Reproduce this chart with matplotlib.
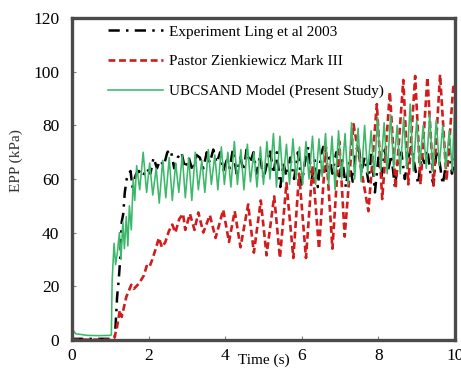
import matplotlib
matplotlib.use("Agg")
import matplotlib.pyplot as plt
from matplotlib.transforms import blended_transform_factory

plt.rcParams['font.family'] = ['Liberation Serif', 'DejaVu Serif']

# Experiment (Ling et al 2003)
exp_t = [0.0, 0.5, 1.0, 1.12, 1.15, 1.18, 1.22, 1.26, 1.30, 1.34, 1.38, 1.43, 1.48, 1.53,
         1.58, 1.63, 1.68, 1.75, 1.85, 1.95, 2.05, 2.13, 2.22, 2.30, 2.40, 2.49, 2.58,
         2.67, 2.76, 2.86, 2.95, 3.05, 3.15, 3.25, 3.34, 3.43, 3.52, 3.60, 3.69, 3.78,
         3.87, 3.95, 4.04, 4.12, 4.20, 4.30, 4.40, 4.48, 4.56, 4.65, 4.74, 4.82, 4.91,
         5.00, 5.08, 5.17, 5.26, 5.35, 5.44, 5.52, 5.60, 5.70, 5.80, 5.90, 6.00, 6.08,
         6.17, 6.26, 6.34, 6.42, 6.50, 6.56, 6.64, 6.72, 6.80, 6.90, 6.98, 7.06, 7.15,
         7.24, 7.33, 7.40, 7.48, 7.56, 7.64, 7.74, 7.82, 7.91, 8.00, 8.08, 8.17, 8.25,
         8.34, 8.43, 8.52, 8.60, 8.69, 8.78, 8.86, 8.96, 9.04, 9.12, 9.20, 9.28, 9.36,
         9.44, 9.52, 9.60, 9.68, 9.76, 9.84, 9.92, 10.0]
exp_p = [0.3, 0.3, 0.3, 0.5, 8, 16, 22, 30, 44, 47, 55, 60, 62, 63,
         57, 60, 62, 63, 61, 64, 62, 68, 64, 67, 65, 70, 71,
         64, 68, 70, 64, 68, 63, 69, 68, 64, 70, 66, 71, 66,
         70, 63, 67, 64, 71, 62, 68, 63, 71, 66, 70, 62, 69,
         60, 65, 71, 62, 70, 57, 66, 61, 68, 60, 70, 58, 66,
         72, 60, 67, 57, 69, 72, 63, 68, 62, 70, 61, 67, 57,
         66, 59, 70, 73, 63, 68, 59, 70, 55, 68, 61, 71, 63,
         69, 57, 67, 70, 60, 68, 72, 64, 58, 69, 66, 71, 62,
         58, 71, 66, 58, 65, 71, 62, 68]

# Pastor Zienkiewicz Mark III
pz_t = [0.0, 0.5, 1.0, 1.10, 1.17, 1.25, 1.30, 1.42, 1.55, 1.62, 1.75, 1.88, 1.95, 2.02,
        2.10, 2.20, 2.27, 2.35, 2.44, 2.53, 2.62, 2.70, 2.80, 2.90, 2.96, 3.08, 3.20,
        3.30, 3.43, 3.60, 3.75, 3.95, 4.10, 4.25, 4.40, 4.60, 4.75, 4.93, 5.08, 5.28,
        5.43, 5.60, 5.78, 5.93, 6.11, 6.28, 6.45, 6.63, 6.80, 6.98, 7.12, 7.35, 7.74,
        7.96, 8.10, 8.30, 8.45, 8.65, 8.78, 8.96, 9.10, 9.28, 9.44, 9.61, 9.78, 9.96, 10.0]
pz_p = [0.0, 0.0, 0.0, 0.5, 4, 11, 8.5, 16, 20.5, 19, 21, 24, 27.5, 27,
        30, 34.5, 38, 34.5, 36.5, 40.5, 43, 40, 45, 47, 41, 47, 41,
        47.5, 40, 46.5, 38, 48.5, 36.5, 48, 34.5, 50.5, 32.5, 52, 31.5, 53.5,
        30.5, 58.5, 30.5, 62, 30.5, 65, 34, 72, 34, 74, 38.5, 80.5, 48,
        88, 52.5, 92.5, 56.5, 97, 58, 98.5, 58, 98, 57.5, 99, 59.5, 95.5, 94]

# UBCSAND model (present study)
ubc_t = [0.0, 0.05, 0.10, 0.20, 0.40, 0.70, 1.00, 1.03, 1.05, 1.10, 1.14, 1.19, 1.24,
         1.28, 1.33, 1.37, 1.42, 1.46, 1.50, 1.55, 1.60, 1.64,
         1.69, 1.77, 1.86, 1.95, 2.03, 2.11, 2.20, 2.28, 2.37, 2.45, 2.54, 2.62, 2.71,
         2.79, 2.88, 2.96, 3.05, 3.13, 3.22, 3.30, 3.39, 3.47, 3.56, 3.64, 3.73, 3.81,
         3.90, 3.98, 4.07, 4.15, 4.24, 4.32, 4.41, 4.49, 4.58, 4.66, 4.75, 4.83, 4.92,
         5.00, 5.09, 5.17, 5.26, 5.34, 5.43, 5.51, 5.60, 5.68, 5.77, 5.85, 5.94, 6.02,
         6.11, 6.19, 6.28, 6.36, 6.45, 6.53, 6.62, 6.70, 6.79, 6.87, 6.96, 7.04, 7.13,
         7.21, 7.30, 7.38, 7.47, 7.55, 7.64, 7.72, 7.81, 7.89, 7.98, 8.06, 8.15, 8.23,
         8.32, 8.40, 8.49, 8.57, 8.66, 8.74, 8.83, 8.91, 9.00, 9.08, 9.17, 9.25, 9.34,
         9.42, 9.51, 9.59, 9.68, 9.76, 9.85, 9.93, 10.0]
ubc_p = [3.0, 3.2, 2.2, 2.0, 1.6, 1.5, 1.6, 1.8, 22, 36, 28, 33, 40,
         30, 44, 34, 46, 35, 50, 41, 60, 52,
         65, 56, 70, 55, 66, 54, 64, 51, 67, 53, 68, 52, 66,
         55, 69, 53, 68, 52, 70, 56, 67, 55, 71, 58, 69, 56,
         72, 58, 70, 57, 74, 58, 71, 56, 73, 59, 70, 57, 72,
         58, 74, 60, 77, 57, 76, 59, 73, 58, 75, 60, 72, 58,
         74, 60, 76, 58, 75, 61, 77, 58, 76, 56, 78, 60, 77,
         58, 81, 60, 79, 59, 80, 62, 78, 61, 83, 63, 81, 62,
         84, 64, 80, 62, 83, 64, 88, 63, 82, 65, 80, 64, 84,
         63, 82, 65, 80, 64, 78, 63, 92]

labels = ['Experiment Ling et al 2003', 'Pastor Zienkiewicz Mark III',
          'UBCSAND Model (Present Study)']

fig = plt.figure(figsize=(4.61, 3.68), dpi=100)
ax = fig.add_axes([0.156, 0.077, 0.831, 0.873])

ax.plot(exp_t, exp_p, color='black', lw=1.8, ls=(0, (4.5, 2.5, 1, 2.5)), label=labels[0])
ax.plot(pz_t, pz_p, color='#d01c1c', lw=1.9, ls=(0, (2.6, 1.4)), label=labels[1])
ax.plot(ubc_t, ubc_p, color='#3cb86a', lw=1.15, label=labels[2])

ax.set_xlim(0, 10)
ax.set_ylim(0, 120)
ax.set_xticks([0, 2, 4, 6, 8, 10])
ax.set_yticks([0, 20, 40, 60, 80, 100, 120])
ax.tick_params(direction='in', length=3, width=0.8, color='#808080',
               labelsize=12.5, pad=9)
ax.tick_params(axis='x', pad=6)
for s in ax.spines.values():
    s.set_linewidth(2.4)
    s.set_color('#4a4a4a')

# axis titles sit in unusual spots
trans = blended_transform_factory(ax.transAxes, ax.transData)
ax.text(-0.145, 67, 'EPP (kPa)', rotation=90, transform=trans,
        ha='center', va='center', fontsize=11, color='#333333')
ax.annotate('Time (s)', xy=(5.0, 0), xycoords=('data', 'axes fraction'),
            xytext=(0, -15), textcoords='offset points',
            ha='center', va='center', fontsize=11)

ax.legend(loc='upper left', bbox_to_anchor=(0.095, 0.98), frameon=False,
          fontsize=11, handlelength=3.6, handletextpad=0.4, labelspacing=1.05,
          borderpad=0, borderaxespad=0)

fig.savefig('out.png', dpi=100)
